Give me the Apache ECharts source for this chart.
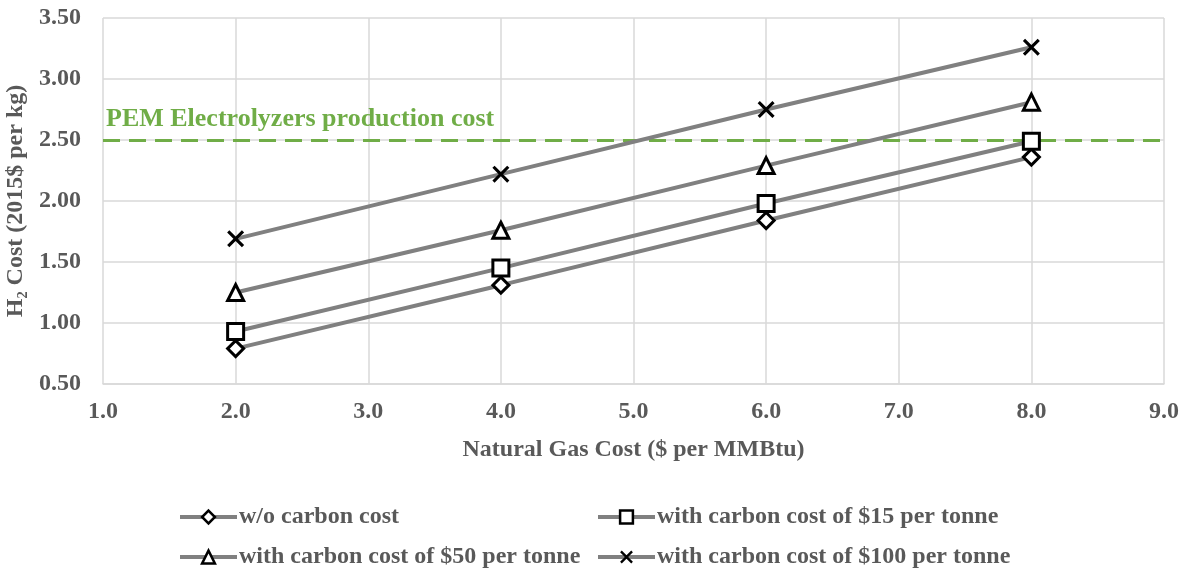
<!DOCTYPE html>
<html>
<head>
<meta charset="utf-8">
<script src="https://cdn.jsdelivr.net/npm/echarts@6/dist/echarts.min.js"></script>
<style>
  html, body { margin: 0; padding: 0; background: #fff; }
  #chart { width: 1187px; height: 571px; }
</style>
</head>
<body>
<div id="chart"></div>
<script>
// Natural gas price points ($ per MMBtu)
const gasCost = [2, 4, 6, 8];

// H2 production cost (2015$ per kg) for each carbon price scenario
const noCarbon = [0.79, 1.31, 1.84, 2.36];
const carbon15 = [0.93, 1.45, 1.98, 2.49];
const carbon50 = [1.25, 1.76, 2.29, 2.81];
const carbon100 = [1.69, 2.22, 2.75, 3.26];

const seriesNames = [
  'w/o carbon cost',
  'with carbon cost of $15 per tonne',
  'with carbon cost of $50 per tonne',
  'with carbon cost of $100 per tonne'
];

// PEM electrolyzer reference cost
const pemCost = 2.5;
const pemLabel = 'PEM Electrolyzers production cost';

const FONT = '"Liberation Serif", "Times New Roman", serif';
const TXT = '#595959';
const LINE = '#808080';

const crossPath = 'path://M0,1.3 L1.3,0 L5,3.7 L8.7,0 L10,1.3 L6.3,5 L10,8.7 L8.7,10 L5,6.3 L1.3,10 L0,8.7 L3.7,5 Z';

function pairs(ys) { return gasCost.map((x, i) => [x, ys[i]]); }

function makeSeries(name, ys, symbol, size, filled) {
  return {
    name: name,
    type: 'line',
    data: pairs(ys),
    symbol: symbol,
    symbolSize: size,
    showAllSymbol: true,
    lineStyle: { color: LINE, width: 4 },
    itemStyle: filled
      ? { color: '#000', borderWidth: 0 }
      : { color: '#fff', borderColor: '#000', borderWidth: 3 },
    emphasis: { disabled: true },
    z: 3
  };
}

const series = [
  makeSeries(seriesNames[0], noCarbon, 'diamond', 16, false),
  makeSeries(seriesNames[1], carbon15, 'rect', 16, false),
  makeSeries(seriesNames[2], carbon50, 'triangle', 16, false),
  makeSeries(seriesNames[3], carbon100, crossPath, 17, true)
];

// Dashed threshold line with its caption
series[0].markLine = {
  silent: true,
  symbol: ['none', 'none'],
  lineStyle: { color: '#70AD47', type: [17, 9], width: 3 },
  label: {
    show: true,
    position: 'insideStartTop',
    formatter: pemLabel,
    color: '#70AD47',
    fontFamily: FONT,
    fontWeight: 'bold',
    fontSize: 26,
    distance: [3, 8]
  },
  data: [{ yAxis: pemCost }],
  z: 2
};

function legendAt(name, left, top, filled) {
  return {
    data: [name],
    left: left,
    top: top,
    itemWidth: 57,
    itemHeight: 16,
    itemGap: 0,
    padding: 0,
    selectedMode: false,
    lineStyle: { color: LINE, width: 4 },
    itemStyle: filled ? { borderWidth: 0 } : { borderWidth: 2.5, borderColor: '#000' },
    textStyle: { fontFamily: FONT, fontWeight: 'bold', fontSize: 24, color: TXT, padding: [0, 0, 0, -3] }
  };
}

const option = {
  animation: false,
  backgroundColor: '#fff',
  grid: { left: 103, right: 23, top: 18, bottom: 187, outerBoundsMode: 'none' },
  legend: [
    legendAt(seriesNames[0], 178, 505, false),
    legendAt(seriesNames[1], 596, 505, false),
    legendAt(seriesNames[2], 178, 545, false),
    legendAt(seriesNames[3], 596, 545, true)
  ],
  xAxis: {
    type: 'value',
    min: 1,
    max: 9,
    interval: 1,
    name: 'Natural Gas Cost ($ per MMBtu)',
    nameLocation: 'middle',
    nameGap: 54,
    nameTextStyle: { fontFamily: FONT, fontWeight: 'bold', fontSize: 24, color: TXT },
    axisLine: { show: true, lineStyle: { color: '#d9d9d9', width: 1.5 } },
    axisTick: { show: false },
    splitLine: { show: true, lineStyle: { color: '#d9d9d9', width: 1.5 } },
    axisLabel: {
      margin: 16,
      fontFamily: FONT, fontWeight: 'bold', fontSize: 24, color: TXT,
      formatter: v => v.toFixed(1)
    }
  },
  yAxis: {
    type: 'value',
    min: 0.5,
    max: 3.5,
    interval: 0.5,
    name: 'H₂ Cost (2015$ per kg)',
    nameLocation: 'middle',
    nameGap: 74,
    nameTextStyle: { fontFamily: FONT, fontWeight: 'bold', fontSize: 24, color: TXT },
    axisLine: { show: false },
    axisTick: { show: false },
    splitLine: { show: true, lineStyle: { color: '#d9d9d9', width: 1.5 } },
    axisLabel: {
      margin: 22,
      fontFamily: FONT, fontWeight: 'bold', fontSize: 24, color: TXT,
      formatter: v => v.toFixed(2)
    }
  },
  series: series
};

const chart = echarts.init(document.getElementById('chart'), null, { renderer: 'canvas' });
chart.setOption(option);
</script>
</body>
</html>
